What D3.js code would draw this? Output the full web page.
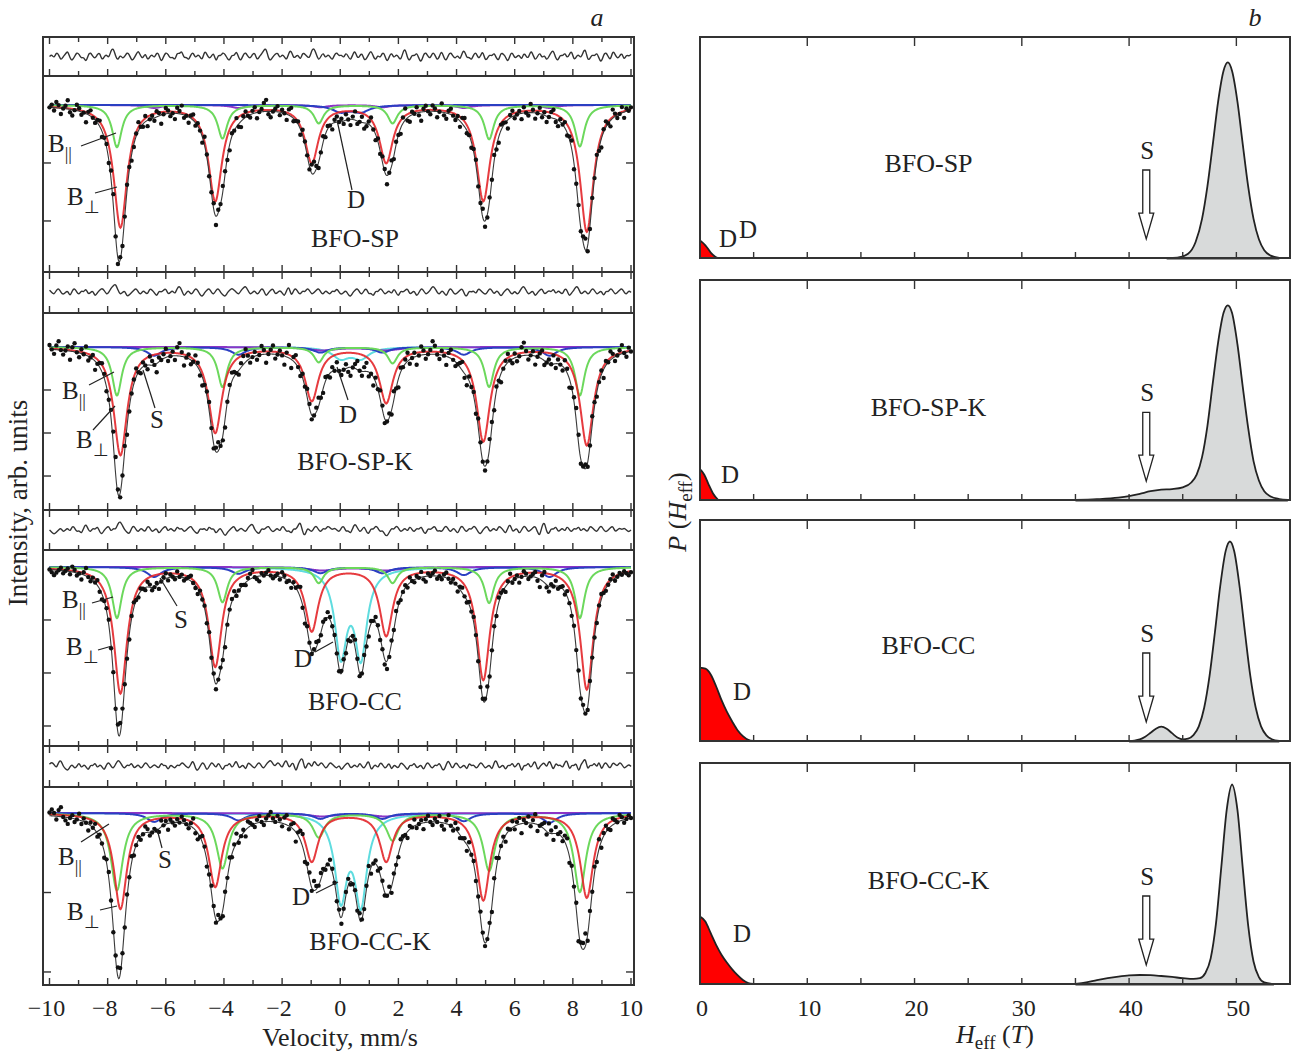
<!DOCTYPE html>
<html lang="en">
<head>
<meta charset="UTF-8">
<title>Mossbauer spectra and field distributions</title>
<script src="https://d3js.org/d3.v7.min.js"></script>
<style>
  body { margin: 0; background: #fff; }
  text { font-family: "Liberation Serif", "Times New Roman", serif; fill: #222; }
  .frame { fill: none; stroke: #333; stroke-width: 2; }
  .tick { stroke: #333; stroke-width: 1.4; }
  .comp { fill: none; stroke-width: 2; }
</style>
</head>
<body>
<svg width="1295" height="1057"></svg>
<script>
const svg = d3.select('svg');

// ---------- data ----------
const samples = ['BFO-SP', 'BFO-SP-K', 'BFO-CC', 'BFO-CC-K'];
const velTicks = [-10, -8, -6, -4, -2, 0, 2, 4, 6, 8, 10];
const hTicks = [0, 10, 20, 30, 40, 50];

// line positions (mm/s)
const posBperp = [-7.56, -4.30, -0.98, 1.58, 4.92, 8.48];
const posBpar  = [-7.68, -4.05, -0.74, 1.80, 5.12, 8.24];
const posS     = [-6.40, -3.50, -0.68, 1.45, 4.25, 7.20];
const posD     = [0.02, 0.71];
const posBroad = [-0.63, 1.55];

// line depths (% absorption), one row per sample
const depthBperp = [[8.4, 6.55, 3.9, 3.9, 6.55, 8.7],
                    [5.0, 3.95, 2.45, 2.55, 4.35, 4.55],
                    [9.5, 7.45, 4.75, 5.1, 8.45, 9.2],
                    [6.0, 4.6, 3.0, 3.0, 5.45, 5.3]];
const depthBpar  = [[2.9, 2.3, 1.25, 1.25, 2.35, 2.85],
                    [2.25, 1.85, 0.7, 0.75, 1.85, 2.25],
                    [3.85, 2.65, 1.2, 1.2, 2.7, 3.85],
                    [4.85, 3.45, 1.5, 1.7, 3.6, 4.95]];
const depthS     = [[0.2, 0.2, 0.15, 0.15, 0.2, 0.2],
                    [0.4, 0.35, 0.25, 0.25, 0.35, 0.4],
                    [0.75, 0.5, 0.45, 0.45, 0.6, 0.75],
                    [0.55, 0.45, 0.35, 0.35, 0.5, 0.6]];
const depthD     = [[0.45, 0.45], [0.5, 0.5], [6.4, 6.5], [5.2, 5.5]];
const depthBroad = [0, 0.15, 0.25, 0.2];
// half widths (mm/s)
const hwBperp = [0.28, 0.28, 0.27, 0.27];
const hwBpar  = [0.2, 0.2, 0.2, 0.25];
const hwS     = [0.3, 0.3, 0.3, 0.3];
const hwD     = [0.35, 0.35, 0.25, 0.25];

const intensityTicks = [[96, 92], [98, 96, 94], [96, 92, 88], [95, 90]];

// residuals (units of 0.2 %), one value per channel
const resid1 = [0,1,-1,2,1,-2,0,1,3,-1,-2,0,2,1,-1,0,-3,1,2,0,-1,1,2,-2,0,1,-1,3,4,0,-2,1,
  -1,0,2,1,-2,-1,1,3,0,-1,2,-2,0,1,-1,2,1,-3,0,2,1,-1,0,-2,2,1,3,-1,0,-2,1,2,
  -1,1,0,-2,3,1,-1,0,2,-3,1,0,2,1,-1,-2,1,0,3,-1,-2,1,2,0,-1,1,2,-2,0,1,3,4,
  -1,-2,0,1,2,-1,1,0,-2,2,3,-1,0,1,-2,2,1,0,-1,3,4,1,-2,0,2,-1,1,0,-2,1,2,0,
  1,-1,2,0,-2,1,3,-1,0,2,-2,-1,1,3,0,-2,1,-1,2,1,-3,0,2,-1,1,0,-2,2,4,-1,-2,1,
  0,2,-1,-3,1,2,0,-1,2,1,-2,0,3,-1,-2,1,2,0,-1,1,-2,2,3,-1,0,-2,1,2,-1,0,3,-2,
  -1,1,0,2,-1,-2,2,1,0,-3,1,2,-1,0,1,-2,2,0,-1,3,1,-2,0,2,-1,1,-2,0,2,3,-1,-2,
  1,0,2,-1,1,3,-2,0,1,-1,2,4,-2,-1,1,0,2,-1,-3,1,2,0,-2,3,1,-1,0,2,-2,1,0,1];
const resid2 = [1,0,-1,1,2,0,-1,0,1,-2,1,2,0,-1,1,0,2,-1,0,1,-2,0,1,2,1,-1,0,2,3,4,1,-1,
  0,1,-2,-1,0,1,2,0,-1,1,0,-1,2,1,0,-2,1,0,1,2,-1,0,1,-1,2,3,1,-2,0,1,-1,0,
  2,1,-1,-2,0,1,2,0,-1,1,2,0,-1,-2,0,1,2,1,0,-1,1,2,3,1,-1,0,1,-1,0,2,1,-2,
  0,1,2,-1,0,1,0,-2,1,3,-2,1,2,0,-1,1,0,2,1,-1,0,1,2,0,-1,1,0,-1,1,0,2,0,
  -1,0,1,-1,-2,0,1,2,0,-1,1,2,-1,0,-2,1,0,2,1,-1,0,1,-1,2,0,-2,1,0,1,2,-1,0,
  1,-2,0,2,1,-1,0,1,3,2,0,-1,1,0,-2,1,2,0,-1,0,1,2,-1,-2,1,0,1,-1,2,1,0,-1,
  0,2,1,-1,1,0,-2,0,1,2,0,-1,1,-1,0,2,3,1,-1,0,1,-2,0,1,2,-1,0,1,0,2,-1,1,
  0,-1,2,1,-2,0,1,3,2,-1,0,1,-1,0,2,1,-1,0,1,-2,1,0,2,1,-1,0,1,2,0,-1,1,0];
const resid3 = [0,-1,-2,-1,0,1,-1,0,1,-1,2,1,-1,0,-2,1,3,0,-1,1,0,2,-1,-2,0,1,2,-1,1,0,3,4,
  2,0,-1,-2,1,2,0,-1,1,0,-1,2,1,-1,0,1,-2,0,1,2,-1,1,0,-1,2,0,1,-1,0,1,2,0,
  -1,-2,1,0,1,-1,2,0,1,-2,0,1,-1,-3,-1,0,1,2,-1,0,1,0,-1,1,2,3,0,-1,-2,1,0,1,
  2,0,-1,0,1,-1,2,1,-1,0,-2,1,0,2,4,-1,-3,1,0,-1,1,2,0,-1,1,0,2,1,0,1,0,-1,
  1,2,-1,0,-2,1,3,1,-1,0,2,-1,-2,1,0,2,1,-1,0,-2,-3,-1,1,0,2,1,-1,0,1,-1,2,0,
  -1,1,0,2,-1,-2,1,0,1,2,-1,0,-1,1,2,0,-1,1,0,-2,1,2,0,-1,1,0,2,1,-1,-2,0,1,
  2,-1,0,1,-1,2,1,0,-2,1,3,-1,0,1,-2,0,2,1,-1,0,1,2,-1,-3,2,4,-1,-2,1,0,2,-1,
  0,1,-1,2,0,-1,1,0,2,-1,1,0,-1,2,1,0,-1,1,2,0,-1,0,1,2,-1,0,1,0,1,0,-1,0];
const resid4 = [1,2,1,-1,2,3,0,-1,-2,0,1,-1,0,2,-1,1,0,-2,1,0,2,-1,1,0,-2,1,2,0,-1,1,3,2,
  0,-1,1,0,2,-1,0,1,-1,0,2,1,-1,0,1,0,-1,2,0,1,-2,1,0,-1,1,0,2,1,0,-1,1,3,
  -1,-2,0,2,1,-2,0,2,1,-1,2,0,-2,1,0,2,-1,1,3,-1,0,1,-2,2,1,0,-1,1,2,0,-1,1,
  2,3,1,0,2,1,-1,2,3,-1,1,2,-3,1,3,4,-2,1,2,-1,3,1,0,2,1,-1,0,2,1,0,-1,1,
  -2,0,1,2,-1,0,1,-1,2,0,-1,1,3,-2,0,1,-1,2,1,-1,0,2,-2,1,0,-1,2,1,0,-2,1,0,
  2,-1,0,1,-2,1,2,0,-1,1,0,2,-1,-2,1,3,0,-1,2,1,-1,0,1,-2,2,0,1,-1,0,2,1,-1,
  0,1,-2,2,3,-1,0,1,-2,1,0,2,-1,1,2,-3,1,0,2,-1,1,3,-2,0,1,2,-1,3,1,-2,2,0,
  1,-1,2,3,-2,1,0,2,-3,1,2,4,-2,1,0,2,-1,3,-2,1,2,0,-1,2,1,0,2,1,-1,0,1,0];
const resids = [resid1, resid2, resid3, resid4];

// field distributions P(Heff): [H (T), P]
const distMain1 = [[43.5,0],[44.5,0.002],[45.5,0.022],[46.2,0.082],[46.8,0.2],[47.3,0.366],[47.8,0.58],[48.3,0.8],[48.8,0.956],[49.2,1.0],[49.6,0.956],[50.1,0.8],[50.6,0.58],[51.1,0.366],[51.6,0.2],[52.1,0.096],[52.6,0.04],[53.2,0.012],[54,0]];
const distMain2 = [[35,0],[37,0.004],[39,0.012],[40,0.02],[41,0.032],[42,0.045],[43,0.053],[44,0.056],[45,0.065],[45.8,0.09],[46.3,0.13],[46.8,0.22],[47.3,0.38],[47.8,0.6],[48.3,0.81],[48.8,0.96],[49.2,1.0],[49.6,0.96],[50.1,0.8],[50.6,0.58],[51.1,0.37],[51.6,0.2],[52.1,0.1],[52.6,0.045],[53.2,0.018],[54,0.005],[54.8,0]];
const distMain3 = [[40,0],[40.5,0.002],[41,0.008],[41.5,0.022],[42,0.042],[42.5,0.063],[43,0.073],[43.5,0.063],[44,0.04],[44.5,0.018],[45,0.008],[45.5,0.012],[46,0.03],[46.5,0.075],[47,0.17],[47.5,0.333],[48,0.556],[48.5,0.794],[49,0.971],[49.4,1.02],[49.8,0.97],[50.3,0.79],[50.8,0.556],[51.3,0.333],[51.8,0.171],[52.3,0.075],[52.8,0.029],[53.3,0.009],[54,0]];
const distMain4 = [[35,0],[36,0.008],[37,0.02],[38,0.03],[39,0.038],[40,0.044],[41,0.046],[42,0.045],[43,0.041],[44,0.036],[45,0.03],[46,0.026],[46.6,0.03],[47.1,0.055],[47.6,0.13],[48.1,0.31],[48.6,0.6],[49.1,0.89],[49.6,1.02],[50.1,0.89],[50.6,0.59],[51.1,0.3],[51.6,0.115],[52.1,0.035],[52.6,0.008],[53.5,0]];
const distD1 = [[0,0.09],[0.5,0.065],[1,0.028],[1.5,0.004],[1.8,0]];
const distD2 = [[0,0.158],[0.4,0.13],[0.8,0.08],[1.2,0.035],[1.7,0]];
const distD3 = [[0,0.375],[0.5,0.37],[1,0.34],[1.5,0.28],[2,0.21],[2.5,0.15],[3,0.1],[3.5,0.055],[4,0.025],[4.5,0.006],[5,0]];
const distD4 = [[0,0.345],[0.5,0.32],[1,0.26],[1.5,0.2],[2,0.15],[2.5,0.11],[3,0.075],[3.5,0.045],[4,0.02],[4.5,0.005],[5,0]];
const distMain = [distMain1, distMain2, distMain3, distMain4];
const distD = [distD1, distD2, distD3, distD4];
const sArrowH = 41.6;

// ---------- colours ----------
const RED = '#e3262a', GREEN = '#6cd85c', BLUE = '#2b3fc2', CYAN = '#5fdcdf', PURPLE = '#8c34c6';

// ---------- left panel: spectra ----------
const xL0 = 43, xL1 = 634;
const residBox = [[37, 76], [272, 313], [510, 550], [746, 787]];
const specBox = [[76, 272], [313, 510], [550, 746], [787, 985]];
const specDomain = [[88.48, 102], [92.42, 101.58], [86.49, 101.28], [89.18, 101.64]];
const xV = d3.scaleLinear([-10, 10], [49.5, 631]);
const grid = d3.range(-10, 10.0001, 0.02);

function lor(v, pos, depth, g) {
  return d3.sum(pos, (p, i) => depth[i] / (1 + ((v - p) / g) ** 2));
}

const defs = svg.append('defs');

specBox.forEach(([t, b], k) => {
  const y = d3.scaleLinear(specDomain[k], [b, t]);
  const cD = {pos: posD, depth: depthD[k], g: hwD[k], color: k === 0 ? BLUE : CYAN};
  const cBroad = {pos: posBroad, depth: [depthBroad[k], depthBroad[k]], g: 0.6, color: PURPLE};
  const cS = {pos: posS, depth: depthS[k], g: hwS[k], color: k === 0 ? PURPLE : BLUE};
  const cPar = {pos: posBpar, depth: depthBpar[k], g: hwBpar[k], color: GREEN};
  const cPerp = {pos: posBperp, depth: depthBperp[k], g: hwBperp[k], color: RED};
  const comps = k === 0 ? [cS, cD, cPar, cPerp] : [cD, cBroad, cS, cPar, cPerp];
  const total = v => d3.sum(comps, c => lor(v, c.pos, c.depth, c.g));

  defs.append('clipPath').attr('id', 'clipS' + k)
    .append('rect').attr('x', xL0).attr('y', t).attr('width', xL1 - xL0).attr('height', b - t);
  const g = svg.append('g').attr('clip-path', `url(#clipS${k})`);

  comps.forEach(c => {
    g.append('path').attr('class', 'comp')
      .attr('stroke', c.color)
      .attr('stroke-opacity', c.color === RED ? 0.9 : 1)
      .attr('d', d3.line().x(v => xV(v)).y(v => y(100 - lor(v, c.pos, c.depth, c.g)))(grid));
  });

  g.append('path').attr('fill', 'none').attr('stroke', '#3a3a3a').attr('stroke-width', 1.1)
    .attr('d', d3.line().x(v => xV(v)).y(v => y(100 - total(v)))(grid));

  const res = resids[k];
  const pts = res.map((r, i) => ({v: -10 + 20 * i / (res.length - 1), r}));
  g.selectAll('circle.pt').data(pts).join('circle').attr('class', 'pt')
    .attr('cx', d => xV(d.v))
    .attr('cy', d => y(100 - total(d.v) + d.r * 0.2))
    .attr('r', 2.2).attr('fill', '#111');

  // residual trace
  const [rt, rb] = residBox[k];
  const yR = d3.scaleLinear([-9, 9], [rb, rt]);
  svg.append('path').attr('fill', 'none').attr('stroke', '#333').attr('stroke-width', 1.4)
    .attr('d', d3.line().x(d => xV(d.v)).y(d => yR(d.r)).curve(d3.curveBasis)(pts));

  // ticks
  d3.range(-10, 10.001, 1).forEach(v => {
    const len = (Math.round(v) % 2 === 0) ? 7 : 5;
    const x = xV(v);
    svg.append('line').attr('class', 'tick').attr('x1', x).attr('x2', x).attr('y1', rt).attr('y2', rt + len);
    svg.append('line').attr('class', 'tick').attr('x1', x).attr('x2', x).attr('y1', rb).attr('y2', rb - len);
    svg.append('line').attr('class', 'tick').attr('x1', x).attr('x2', x).attr('y1', b).attr('y2', b - len);
  });
  intensityTicks[k].forEach(val => {
    svg.append('line').attr('class', 'tick').attr('x1', xL0).attr('x2', xL0 + 8).attr('y1', y(val)).attr('y2', y(val));
    svg.append('line').attr('class', 'tick').attr('x1', xL1 - 8).attr('x2', xL1).attr('y1', y(val)).attr('y2', y(val));
  });

  svg.append('rect').attr('class', 'frame').attr('x', xL0).attr('y', rt).attr('width', xL1 - xL0).attr('height', rb - rt);
  svg.append('rect').attr('class', 'frame').attr('x', xL0).attr('y', t).attr('width', xL1 - xL0).attr('height', b - t);
});

// velocity tick labels
svg.selectAll('text.vt').data(velTicks).join('text').attr('class', 'vt')
  .attr('x', d => xV(d) - (d < 0 ? 3 : 0)).attr('y', 1016)
  .attr('text-anchor', 'middle').attr('font-size', 24)
  .text(d => d < 0 ? '\u2212' + Math.abs(d) : d);

svg.append('text').attr('x', 340).attr('y', 1046).attr('text-anchor', 'middle')
  .attr('font-size', 26).text('Velocity, mm/s');
svg.append('text').attr('transform', 'translate(27,503) rotate(-90)').attr('text-anchor', 'middle')
  .attr('font-size', 27).text('Intensity, arb. units');
svg.append('text').attr('x', 597).attr('y', 26).attr('font-size', 26).attr('font-style', 'italic')
  .attr('text-anchor', 'middle').text('a');

// annotations on spectra
const sampleLabelL = [[355, 247], [355, 470], [355, 710], [370, 950]];
samples.forEach((s, k) => {
  svg.append('text').attr('x', sampleLabelL[k][0]).attr('y', sampleLabelL[k][1])
    .attr('text-anchor', 'middle').attr('font-size', 26).text(s);
});

function bLabel(x, yb, sub) {
  const t = svg.append('text').attr('x', x).attr('y', yb).attr('font-size', 25);
  t.append('tspan').text('B');
  t.append('tspan').attr('dy', 8).attr('font-size', 18).text(sub);
}
function leader(x1, y1, x2, y2) {
  svg.append('line').attr('x1', x1).attr('y1', y1).attr('x2', x2).attr('y2', y2)
    .attr('stroke', '#222').attr('stroke-width', 1.2);
}
function plain(x, y, s) {
  svg.append('text').attr('x', x).attr('y', y).attr('font-size', 25).text(s);
}
// spectrum 1
bLabel(48, 152, '||'); leader(81, 146, 116, 133);
bLabel(67, 205, '\u22A5'); leader(95, 193, 117, 187);
plain(347, 208, 'D'); leader(352, 190, 337, 120);
// spectrum 2
bLabel(62, 399, '||'); leader(89, 385, 114, 372);
bLabel(76, 448, '\u22A5'); leader(93, 430, 115, 406);
plain(150, 428, 'S'); leader(155, 408, 143, 370);
plain(339, 423, 'D'); leader(348, 400, 337, 367);
// spectrum 3
bLabel(62, 608, '||'); leader(92, 603, 113, 597);
bLabel(66, 655, '\u22A5'); leader(98, 650, 112, 646);
plain(174, 628, 'S'); leader(177, 606, 160, 578);
plain(294, 667, 'D'); leader(315, 652, 333, 642);
// spectrum 4
bLabel(58, 865, '||'); leader(81, 842, 109, 824);
bLabel(67, 920, '\u22A5'); leader(100, 910, 117, 906);
plain(158, 868, 'S'); leader(162, 848, 157, 829);
plain(292, 905, 'D'); leader(316, 893, 338, 882);

// ---------- right panel: P(Heff) ----------
const xR0 = 700, xR1 = 1290;
const distBox = [[37, 258], [280, 500], [520, 741], [763, 984]];
const xH = d3.scaleLinear([0, 55], [xR0, xR1]);
const sampleLabelR = [172, 416, 654, 889];
const dLabelR = [[719, 247], [721, 483], [733, 700], [733, 942]];

distBox.forEach(([t, b], k) => {
  const yP = d3.scaleLinear([0, 1.13], [b, t]);
  const area = d3.area().x(d => xH(d[0])).y0(b).y1(d => yP(d[1])).curve(d3.curveMonotoneX);
  const line = d3.line().x(d => xH(d[0])).y(d => yP(d[1])).curve(d3.curveMonotoneX);

  svg.append('path').attr('fill', '#d8dada').attr('d', area(distMain[k]));
  svg.append('path').attr('fill', 'none').attr('stroke', '#9a9a9a').attr('stroke-width', 2)
    .attr('d', `M${xH(distMain[k][0][0])},${b + 1}H${xH(distMain[k][distMain[k].length - 1][0])}`);
  svg.append('path').attr('fill', 'none').attr('stroke', '#222').attr('stroke-width', 1.8).attr('d', line(distMain[k]));
  svg.append('path').attr('fill', '#ff0000').attr('d', area(distD[k]));
  svg.append('path').attr('fill', 'none').attr('stroke', '#222').attr('stroke-width', 1.8).attr('d', line(distD[k]));

  d3.range(5, 55, 5).forEach(h => {
    svg.append('line').attr('class', 'tick').attr('x1', xH(h)).attr('x2', xH(h)).attr('y1', b).attr('y2', b - 6);
  });
  d3.range(10, 55, 10).forEach(h => {
    svg.append('line').attr('class', 'tick').attr('x1', xH(h)).attr('x2', xH(h)).attr('y1', t).attr('y2', t + 9);
  });
  svg.append('rect').attr('class', 'frame').attr('x', xR0).attr('y', t).attr('width', xR1 - xR0).attr('height', b - t);

  // S arrow (hollow)
  const ax = xH(sArrowH), yTop = yP(0.45), yTip = yP(0.097), yHead = yTip - 26;
  svg.append('path').attr('fill', '#fff').attr('stroke', '#222').attr('stroke-width', 1.3)
    .attr('d', `M${ax - 3.5},${yTop}H${ax + 3.5}V${yHead}H${ax + 7.5}L${ax},${yTip}L${ax - 7.5},${yHead}H${ax - 3.5}Z`);
  svg.append('text').attr('x', ax + 1).attr('y', yP(0.506)).attr('text-anchor', 'middle').attr('font-size', 25).text('S');

  svg.append('text').attr('x', xH(21.3)).attr('y', sampleLabelR[k]).attr('text-anchor', 'middle')
    .attr('font-size', 26).text(samples[k]);
  svg.append('text').attr('x', dLabelR[k][0]).attr('y', dLabelR[k][1]).attr('font-size', 25).text('D');
});
svg.append('text').attr('x', 739).attr('y', 238).attr('font-size', 25).text('D');

svg.selectAll('text.ht').data(hTicks).join('text').attr('class', 'ht')
  .attr('x', d => xH(d) + 2).attr('y', 1016).attr('text-anchor', 'middle').attr('font-size', 24)
  .text(d => d);

const hl = svg.append('text').attr('x', 995).attr('y', 1043).attr('text-anchor', 'middle').attr('font-size', 26);
hl.append('tspan').attr('font-style', 'italic').text('H');
hl.append('tspan').attr('dy', 6).attr('font-size', 19).text('eff');
hl.append('tspan').attr('dy', -6).text(' (');
hl.append('tspan').attr('font-style', 'italic').text('T');
hl.append('tspan').text(')');

const pl = svg.append('text').attr('transform', 'translate(686,512) rotate(-90)').attr('text-anchor', 'middle').attr('font-size', 26);
pl.append('tspan').attr('font-style', 'italic').text('P');
pl.append('tspan').text(' (');
pl.append('tspan').attr('font-style', 'italic').text('H');
pl.append('tspan').attr('dy', 6).attr('font-size', 19).text('eff');
pl.append('tspan').attr('dy', -6).text(')');

svg.append('text').attr('x', 1255).attr('y', 26).attr('font-size', 26).attr('font-style', 'italic')
  .attr('text-anchor', 'middle').text('b');
</script>
</body>
</html>
